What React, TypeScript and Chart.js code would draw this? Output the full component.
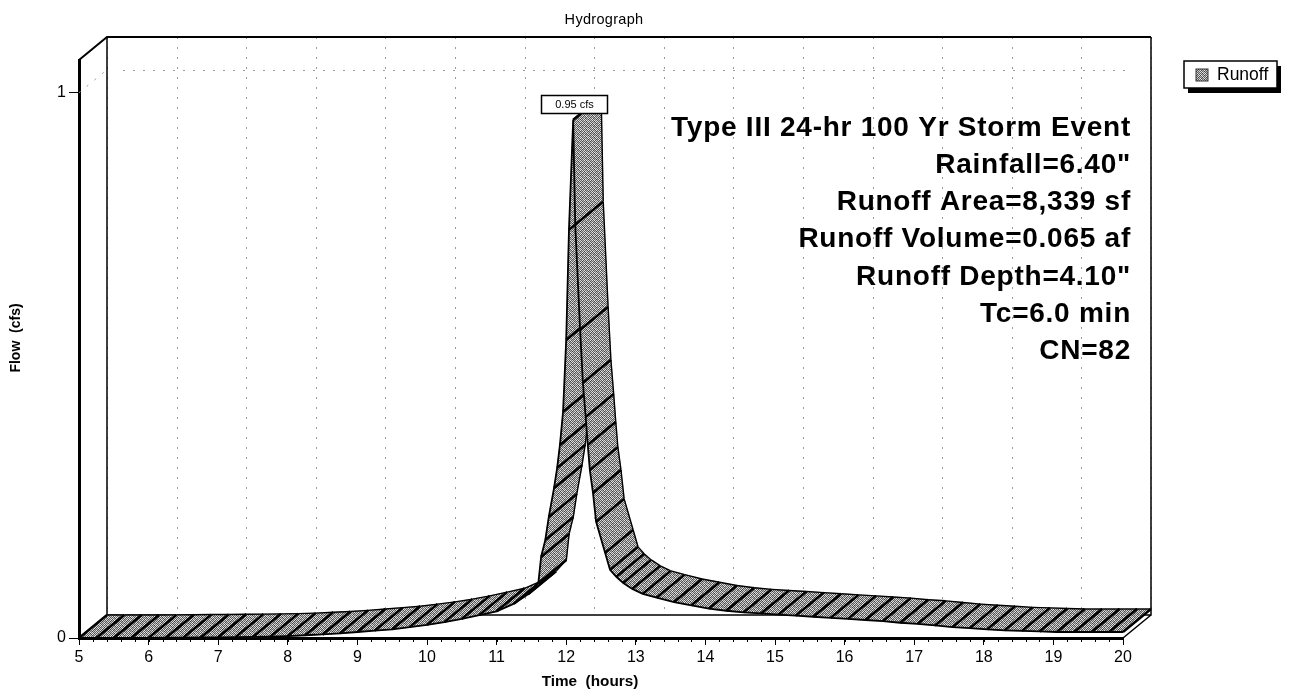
import React, { useEffect, useRef } from "react";
import { Chart, registerables } from "chart.js";

Chart.register(...registerables);

const chartTitle = "Hydrograph";
const seriesName = "Runoff";
const xAxisTitle = "Time  (hours)";
const yAxisTitle = "Flow  (cfs)";
const peakLabel = "0.95 cfs";
const infoLines = [
  "Type III 24-hr 100 Yr Storm Event",
  'Rainfall=6.40"',
  "Runoff Area=8,339 sf",
  "Runoff Volume=0.065 af",
  'Runoff Depth=4.10"',
  "Tc=6.0 min",
  "CN=82",
];

const hours = [
  5, 5.25, 5.5, 5.75, 6, 6.25, 6.5, 6.75, 7, 7.25, 7.5, 7.75, 8, 8.25, 8.5, 8.75, 9, 9.25, 9.5, 9.75,
  10, 10.25, 10.5, 10.75, 11, 11.25, 11.45, 11.6, 11.64, 11.7, 11.75, 11.825, 11.87, 11.91, 11.955,
  12.0, 12.04, 12.1, 12.13, 12.2, 12.24, 12.28, 12.31, 12.34, 12.385, 12.43, 12.56, 12.63, 12.72,
  12.82, 12.95, 13.1, 13.3, 13.55, 13.8, 14.05, 14.3, 14.55, 14.8, 15.05, 15.3, 15.55, 15.8, 16.05,
  16.3, 16.55, 16.8, 17.05, 17.3, 17.55, 17.8, 18.05, 18.3, 18.55, 18.8, 19.05, 19.3, 19.55, 19.8, 20,
];
const flows = [
  0, 0, 0, 0, 0.0003, 0.0005, 0.0008, 0.001, 0.0013, 0.0016, 0.002, 0.0025, 0.0035, 0.005, 0.0065,
  0.0085, 0.011, 0.0135, 0.016, 0.02, 0.024, 0.029, 0.035, 0.042, 0.049, 0.063, 0.08, 0.101, 0.149,
  0.18, 0.222, 0.275, 0.312, 0.354, 0.415, 0.547, 0.749, 0.95, 0.758, 0.565, 0.468, 0.405, 0.354,
  0.308, 0.266, 0.213, 0.156, 0.125, 0.112, 0.101, 0.09, 0.081, 0.074, 0.066, 0.06, 0.054, 0.05,
  0.047, 0.045, 0.043, 0.041, 0.039, 0.037, 0.035, 0.033, 0.031, 0.028, 0.026, 0.023, 0.02, 0.018,
  0.016, 0.014, 0.013, 0.012, 0.011, 0.011, 0.011, 0.011, 0.011,
];
const xTicks = [5, 20];
const yTickStep = 1;
const minorHourStep = 0.2;

const FONT = '"Liberation Sans", Arial, sans-serif';
const DX = 28;
const DY = 23;

function ditherPattern(ctx: CanvasRenderingContext2D) {
  const tile = [
    0xff, 0x55, 0xff, 0x88, 0xee, 0x66, 0xcc, 0x77,
    0x66, 0xdd, 0x44, 0xff, 0x77, 0xff, 0x55, 0xdd,
    0xee, 0x77, 0xcc, 0x55, 0xff, 0x66, 0xee, 0x66,
    0x44, 0xff, 0x88, 0xdd, 0x55, 0xbb, 0x77, 0xff,
    0xdd, 0x66, 0xff, 0x66, 0xcc, 0x77, 0xff, 0x55,
    0x77, 0xcc, 0x55, 0xee, 0x66, 0xee, 0x44, 0xcc,
    0xff, 0x55, 0xbb, 0x77, 0xff, 0x55, 0xdd, 0x77,
    0x66, 0xee, 0x77, 0xcc, 0x44, 0xdd, 0x66, 0xee,
  ];
  const c = document.createElement("canvas");
  c.width = 8;
  c.height = 8;
  const g = c.getContext("2d")!;
  tile.forEach((v, i) => {
    const s = Math.round(v * 0.9);
    g.fillStyle = `rgb(${s},${s},${s})`;
    g.fillRect(i % 8, Math.floor(i / 8), 1, 1);
  });
  return ctx.createPattern(c, "repeat")!;
}

const wallsAndRibbon = {
  id: "wallsAndRibbon",
  beforeDatasetsDraw(chart: any) {
    const { ctx, chartArea: a, scales } = chart;
    const { x, y } = scales;
    const y0 = y.getPixelForValue(0);
    const y1 = y.getPixelForValue(1);
    ctx.save();

    // back wall grid
    ctx.strokeStyle = "#9a9a9a";
    ctx.lineWidth = 1;
    ctx.setLineDash([2, 8]);
    x.ticks.forEach((t: any) => {
      const px = Math.round(x.getPixelForValue(t.value) + DX) + 0.5;
      ctx.beginPath();
      ctx.moveTo(px, a.top - DY);
      ctx.lineTo(px, y0 - DY);
      ctx.stroke();
    });
    ctx.beginPath();
    ctx.moveTo(a.left + DX + 16, Math.round(y1 - DY) + 0.5);
    ctx.lineTo(a.right + DX - 20, Math.round(y1 - DY) + 0.5);
    ctx.moveTo(a.left, y1);
    ctx.lineTo(a.left + DX, y1 - DY);
    ctx.stroke();
    ctx.setLineDash([]);

    // frame
    ctx.strokeStyle = "#000";
    ctx.lineWidth = 2;
    ctx.beginPath();
    ctx.moveTo(a.left, a.top);
    ctx.lineTo(a.left + DX, a.top - DY);
    ctx.lineTo(a.right + DX, a.top - DY);
    ctx.stroke();
    ctx.lineWidth = 1.5;
    ctx.beginPath();
    ctx.moveTo(a.left + DX, a.top - DY);
    ctx.lineTo(a.left + DX, y0 - DY);
    ctx.lineTo(a.right + DX, y0 - DY);
    ctx.lineTo(a.right + DX, a.top - DY);
    ctx.moveTo(a.left, y0);
    ctx.lineTo(a.left + DX, y0 - DY);
    ctx.moveTo(a.right, y0);
    ctx.lineTo(a.right + DX, y0 - DY);
    ctx.stroke();

    // minor x ticks
    ctx.lineWidth = 1;
    ctx.beginPath();
    for (let h = x.min; h <= x.max + 1e-6; h += minorHourStep) {
      const px = Math.round(x.getPixelForValue(h)) + 0.5;
      ctx.moveTo(px, y0 + 1);
      ctx.lineTo(px, y0 + 4);
    }
    ctx.stroke();

    // ribbon
    const pts = chart.getDatasetMeta(0).data;
    const fill = ditherPattern(ctx);
    ctx.lineJoin = "round";
    for (let i = 0; i < pts.length - 1; i++) {
      const p = pts[i];
      const q = pts[i + 1];
      ctx.beginPath();
      ctx.moveTo(p.x, p.y);
      ctx.lineTo(q.x, q.y);
      ctx.lineTo(q.x + DX, q.y - DY);
      ctx.lineTo(p.x + DX, p.y - DY);
      ctx.closePath();
      ctx.fillStyle = fill;
      ctx.fill();
      ctx.strokeStyle = fill;
      ctx.lineWidth = 0.6;
      ctx.stroke();
      ctx.strokeStyle = "#000";
      ctx.lineWidth = 1.4;
      ctx.beginPath();
      ctx.moveTo(p.x + DX, p.y - DY);
      ctx.lineTo(q.x + DX, q.y - DY);
      ctx.stroke();
      ctx.lineWidth = 2.4;
      ctx.beginPath();
      ctx.moveTo(p.x, p.y);
      ctx.lineTo(p.x + DX, p.y - DY);
      ctx.moveTo(q.x, q.y);
      ctx.lineTo(q.x + DX, q.y - DY);
      ctx.stroke();
    }
    ctx.restore();
  },
  afterDatasetsDraw(chart: any) {
    const { ctx, scales } = chart;
    const pts = chart.getDatasetMeta(0).data;
    let peak = pts[0];
    pts.forEach((p: any) => {
      if (p.y < peak.y) peak = p;
    });
    ctx.save();

    // peak label
    const bw = 66;
    const bh = 18;
    const bx = Math.round(peak.x + 1 - bw / 2) + 0.5;
    const by = Math.round(peak.y - 7 - bh) + 0.5;
    ctx.fillStyle = "#fff";
    ctx.strokeStyle = "#000";
    ctx.lineWidth = 1.5;
    ctx.fillRect(bx, by, bw, bh);
    ctx.strokeRect(bx, by, bw, bh);
    ctx.fillStyle = "#000";
    ctx.font = `11px ${FONT}`;
    ctx.textAlign = "center";
    ctx.textBaseline = "middle";
    ctx.fillText(peakLabel, bx + bw / 2, by + bh / 2 + 0.5);

    // chart and axis titles
    ctx.font = `14.5px ${FONT}`;
    ctx.letterSpacing = "0.3px";
    ctx.fillText(chartTitle, 604, 20);
    ctx.letterSpacing = "0px";
    ctx.font = `bold 15.3px ${FONT}`;
    ctx.fillText(xAxisTitle, 590, 682);
    ctx.save();
    ctx.translate(16, 338);
    ctx.rotate(-Math.PI / 2);
    ctx.font = `bold 14px ${FONT}`;
    ctx.fillText(yAxisTitle, 0, 0);
    ctx.restore();

    // info text
    ctx.font = `bold 28px ${FONT}`;
    ctx.letterSpacing = "0.75px";
    ctx.textAlign = "right";
    infoLines.forEach((line, i) => {
      ctx.fillText(line, scales.x.right + 8, 128 + i * 37.2);
    });
    ctx.letterSpacing = "0px";

    // legend
    const lx = 1184;
    const ly = 61;
    const lw = 93;
    const lh = 27;
    ctx.fillStyle = "#000";
    ctx.fillRect(lx + 4, ly + 5, lw, lh);
    ctx.fillStyle = "#fff";
    ctx.fillRect(lx, ly, lw, lh);
    ctx.lineWidth = 1.5;
    ctx.strokeRect(lx, ly, lw, lh);
    ctx.fillStyle = ditherPattern(ctx);
    ctx.fillRect(lx + 12, ly + 8, 12, 12);
    ctx.strokeStyle = "#333";
    ctx.lineWidth = 1;
    ctx.strokeRect(lx + 12, ly + 8, 12, 12);
    ctx.fillStyle = "#000";
    ctx.font = `17.5px ${FONT}`;
    ctx.textAlign = "left";
    ctx.fillText(seriesName, lx + 33, ly + 14.5);
    ctx.restore();
  },
};

export default function App() {
  const ref = useRef<HTMLCanvasElement>(null);
  useEffect(() => {
    document.body.style.margin = "0";
    document.body.style.background = "#fff";
    const chart = new Chart(ref.current!, {
      type: "scatter",
      data: {
        datasets: [
          {
            label: seriesName,
            data: hours.map((h, i) => ({ x: h, y: flows[i] })),
            showLine: true,
            borderColor: "#000",
            borderWidth: 1.8,
            pointRadius: 0,
            fill: false,
            clip: false,
            tension: 0,
          },
        ],
      },
      options: {
        responsive: false,
        animation: false,
        layout: { padding: { left: 0, right: 166, top: 60, bottom: 0 } },
        plugins: {
          legend: { display: false },
          tooltip: { enabled: false },
          title: { display: false },
        },
        scales: {
          x: {
            type: "linear",
            min: xTicks[0],
            max: xTicks[1],
            afterFit: (s: any) => {
              s.height = 54;
            },
            border: { display: true, width: 3, color: "#000" },
            grid: { display: true, drawOnChartArea: false, drawTicks: true, tickLength: 7, tickColor: "#000" },
            ticks: {
              stepSize: 1,
              autoSkip: false,
              maxRotation: 0,
              color: "#000",
              padding: 3,
              font: { family: FONT, size: 16 },
            },
          },
          y: {
            type: "linear",
            min: 0,
            max: 1.06,
            afterFit: (s: any) => {
              s.width = 79;
            },
            border: { display: true, width: 3, color: "#000" },
            grid: { display: true, drawOnChartArea: false, drawTicks: true, tickLength: 10, tickColor: "#000" },
            ticks: {
              stepSize: yTickStep,
              includeBounds: false,
              color: "#000",
              padding: 3,
              font: { family: FONT, size: 16 },
              callback: (v: any) => String(v),
            },
          },
        },
      } as any,
      plugins: [wallsAndRibbon],
    });
    return () => chart.destroy();
  }, []);
  return <canvas ref={ref} width={1289} height={692} style={{ display: "block" }} />;
}
